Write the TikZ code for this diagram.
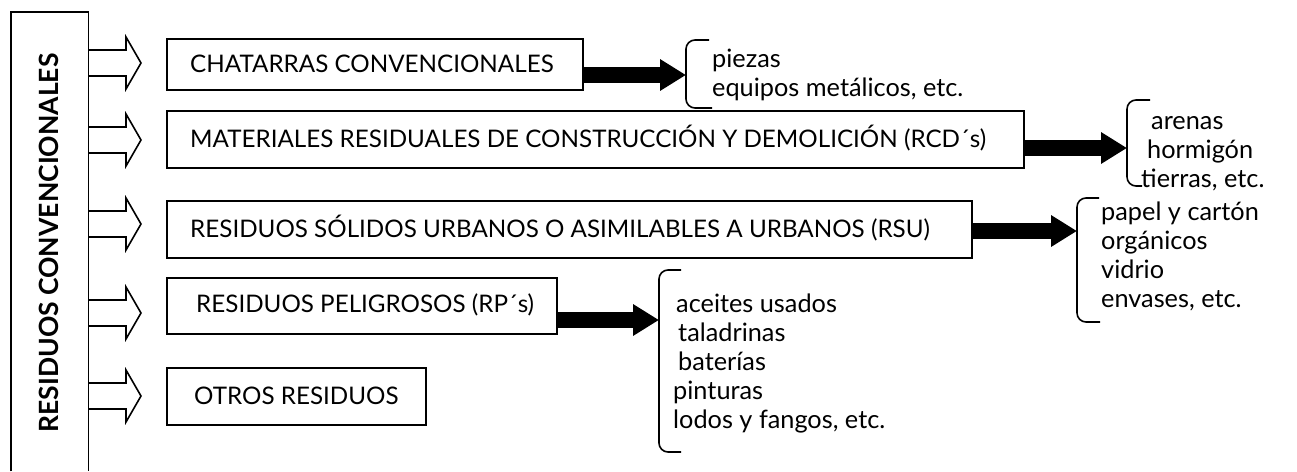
\documentclass[tikz,border=0pt]{standalone}
\usepackage{fontspec}
\setmainfont{Lato}
\usetikzlibrary{arrows.meta,calc}
\begin{document}
\begin{tikzpicture}[x=1pt,y=-1pt,
  lbl/.style={font=\fontsize{24.2}{29}\selectfont, inner sep=0pt, anchor=west, align=left},
  lst/.style={font=\fontsize{25.3}{29}\selectfont, inner sep=0pt, anchor=west, align=left},
  catbox/.style={draw, line width=1.6pt, inner sep=0pt, anchor=north west},
  hollow/.style={draw, line width=1.6pt, line join=miter},
  fat/.style={line width=16pt, -{Triangle[length=26pt,width=30pt]}},
  bracket/.style={draw, line width=1.6pt, rounded corners=9pt}
]
\useasboundingbox (0,0) rectangle (1297,471);
% left column
\node[inner sep=0pt, anchor=north west, minimum width=77pt, minimum height=459pt] (L) at (11,12) {};
\draw[line width=1.6pt] (L.south west) -- (L.north west) -- (L.north east) -- (L.south east);
\node[rotate=90, inner sep=0pt, font=\bfseries\fontsize{26.5}{26.5}\selectfont] (lt) at (49,243) {RESIDUOS CONVENCIONALES};
% category boxes
\node[catbox, minimum width=416pt, minimum height=51pt] (b1) at (166,38) {};
\node[catbox, minimum width=857pt, minimum height=57pt] (b2) at (166,110) {};
\node[catbox, minimum width=805pt, minimum height=57pt] (b3) at (166,200) {};
\node[catbox, minimum width=390pt, minimum height=56pt] (b4) at (166,277) {};
\node[catbox, minimum width=259pt, minimum height=57pt] (b5) at (166,367) {};
\node[lbl] (t1) at (190,63.5) {CHATARRAS CONVENCIONALES};
\node[lbl] (t2) at (190,138.5) {MATERIALES RESIDUALES DE CONSTRUCCIÓN Y DEMOLICIÓN (RCD´s)};
\node[lbl] (t3) at (190,228.5) {RESIDUOS SÓLIDOS URBANOS O ASIMILABLES A URBANOS (RSU)};
\node[lbl] (t4) at (196,305) {RESIDUOS PELIGROSOS (RP´s)};
\node[lbl] (t5) at (194,396) {OTROS RESIDUOS};
% hollow arrows
\foreach \c in {63,140,224,313,396} {
  \draw[hollow] (L.east |- 0,\c-13) -- (126,\c-13) -- (126,\c-26) -- (141,\c) -- (126,\c+26) -- (126,\c+13) -- (L.east |- 0,\c+13);
}
% brackets
\coordinate (k1) at (686,75);
\coordinate (k2) at (1127,148);
\coordinate (k3) at (1077,231);
\coordinate (k4) at (659,320);
\draw[bracket] (709,40) -- (k1 |- 0,40) -- (k1 |- 0,108) -- (712,108);
\draw[bracket] (1150,100) -- (k2 |- 0,100) -- (k2 |- 0,186) -- (1142,186);
\draw[bracket] (1099,198) -- (k3 |- 0,198) -- (k3 |- 0,322) -- (1100,322);
\draw[bracket] (681,270) -- (k4 |- 0,270) -- (k4 |- 0,452) -- (681,452);
% thick arrows
\draw[fat] (b1.east |- k1) -- (k1);
\draw[fat] (b2.east |- k2) -- (k2);
\draw[fat] (b3.east |- k3) -- (k3);
\draw[fat] (b4.east |- k4) -- (k4);
% lists
\node[lst] (l1) at (712,74.5) {piezas\\equipos metálicos, etc.};
\node[lst] (l2) at (1141,154) {\hspace{10pt}arenas\\\hspace{6pt}hormigón\\tierras, etc.};
\node[lst] (l3) at (1101,256) {papel y cartón\\orgánicos\\vidrio\\envases, etc.};
\node[lst] (l4) at (673,363) {\hspace{3pt}aceites usados\\\hspace{5pt}taladrinas\\\hspace{5pt}baterías\\pinturas\\lodos y fangos, etc.};
\end{tikzpicture}
\end{document}
